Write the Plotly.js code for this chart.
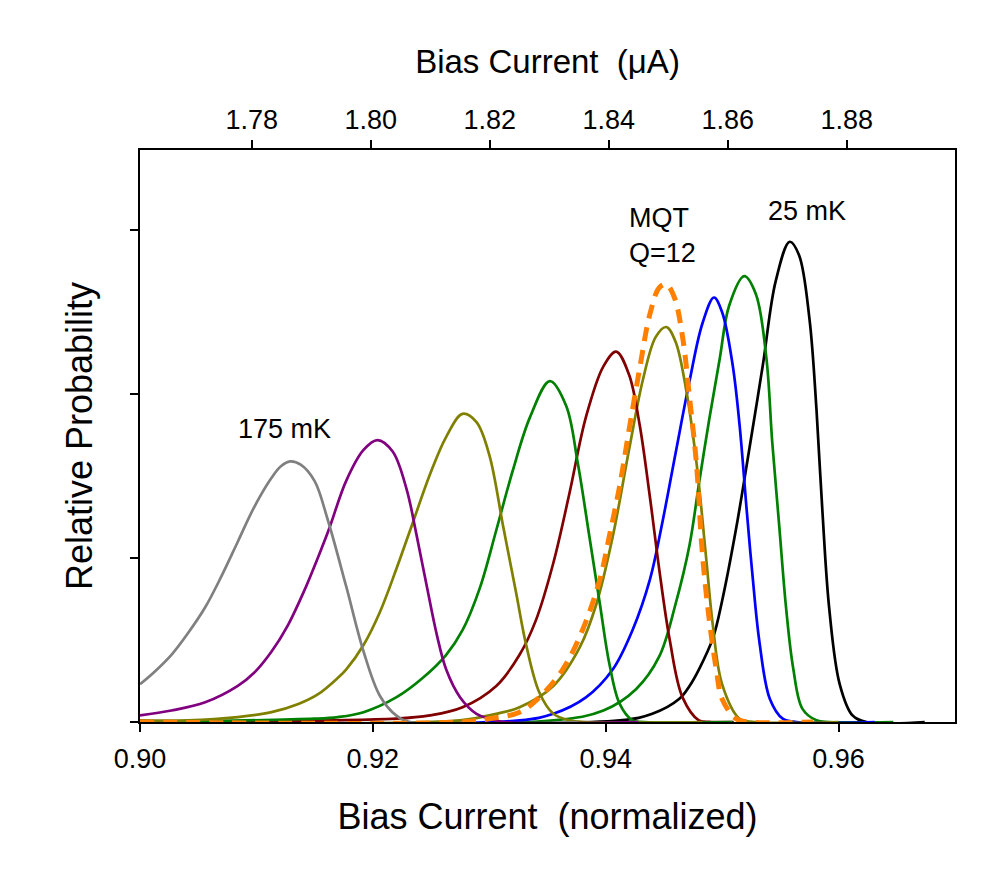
<!DOCTYPE html>
<html>
<head>
<meta charset="utf-8">
<script src="https://cdn.plot.ly/plotly-3.0.1.min.js"></script>
<style>
  body { margin: 0; background: #fff; }
  #chart { width: 1007px; height: 895px; }
</style>
</head>
<body>
<div id="chart"></div>
<script>
// switching distributions, x = normalized bias current
// y = relative probability (one y tick = 1 unit)

// 175 mK
var xGray = [0.9000, 0.9013, 0.9027, 0.9041, 0.9056, 0.9070, 0.9084, 0.9098, 0.9113, 0.9121, 0.9129, 0.9138, 0.9150, 0.9161, 0.9177, 0.9192, 0.9206, 0.9220, 0.9232, 0.9376];
var yGray = [0.23, 0.31, 0.41, 0.54, 0.70, 0.89, 1.10, 1.31, 1.49, 1.56, 1.59, 1.57, 1.47, 1.24, 0.83, 0.43, 0.16, 0.04, 0.00, 0.00];

var xPurple = [0.9000, 0.9027, 0.9056, 0.9084, 0.9098, 0.9113, 0.9127, 0.9141, 0.9156, 0.9163, 0.9177, 0.9192, 0.9204, 0.9217, 0.9229, 0.9237, 0.9246, 0.9255, 0.9263, 0.9275, 0.9289, 0.9300, 0.9313, 0.9428];
var yPurple = [0.04, 0.07, 0.12, 0.22, 0.30, 0.43, 0.59, 0.80, 1.06, 1.19, 1.47, 1.66, 1.72, 1.65, 1.42, 1.16, 0.84, 0.53, 0.32, 0.15, 0.05, 0.02, 0.00, 0.00];

var xOlive1 = [0.9000, 0.9041, 0.9084, 0.9113, 0.9136, 0.9153, 0.9170, 0.9177, 0.9192, 0.9206, 0.9220, 0.9234, 0.9249, 0.9263, 0.9277, 0.9289, 0.9300, 0.9312, 0.9323, 0.9332, 0.9343, 0.9355, 0.9369, 0.9382, 0.9483];
var yOlive1 = [0.01, 0.01, 0.03, 0.06, 0.11, 0.17, 0.27, 0.32, 0.47, 0.67, 0.93, 1.21, 1.51, 1.74, 1.88, 1.83, 1.63, 1.19, 0.79, 0.46, 0.18, 0.05, 0.01, 0.00, 0.00];

var xGreen1 = [0.9000, 0.9150, 0.9170, 0.9192, 0.9220, 0.9243, 0.9263, 0.9277, 0.9292, 0.9306, 0.9320, 0.9335, 0.9352, 0.9366, 0.9376, 0.9386, 0.9395, 0.9403, 0.9412, 0.9423, 0.9433, 0.9509];
var yGreen1 = [0.00, 0.02, 0.03, 0.06, 0.15, 0.27, 0.41, 0.56, 0.82, 1.17, 1.53, 1.86, 2.08, 1.93, 1.58, 1.13, 0.72, 0.36, 0.11, 0.01, 0.00, 0.00];

var xRed = [0.9000, 0.9220, 0.9249, 0.9277, 0.9306, 0.9326, 0.9340, 0.9355, 0.9369, 0.9383, 0.9398, 0.9409, 0.9420, 0.9429, 0.9438, 0.9446, 0.9455, 0.9466, 0.9480, 0.9491, 0.9510];
var yRed = [0.00, 0.02, 0.04, 0.09, 0.22, 0.41, 0.62, 0.97, 1.40, 1.86, 2.17, 2.26, 2.12, 1.82, 1.37, 0.93, 0.50, 0.15, 0.01, 0.00, 0.00];

var xOlive2 = [0.9000, 0.9275, 0.9306, 0.9326, 0.9355, 0.9378, 0.9392, 0.9406, 0.9420, 0.9432, 0.9443, 0.9452, 0.9460, 0.9469, 0.9478, 0.9486, 0.9492, 0.9500, 0.9515, 0.9528, 0.9600];
var yOlive2 = [0.00, 0.01, 0.05, 0.09, 0.22, 0.46, 0.72, 1.13, 1.66, 2.09, 2.35, 2.41, 2.32, 2.03, 1.58, 1.02, 0.59, 0.23, 0.02, 0.00, 0.00];

var xBlue = [0.9000, 0.9326, 0.9355, 0.9383, 0.9406, 0.9423, 0.9438, 0.9449, 0.9460, 0.9472, 0.9483, 0.9493, 0.9500, 0.9509, 0.9515, 0.9521, 0.9526, 0.9532, 0.9541, 0.9552, 0.9564, 0.9631];
var yBlue = [0.00, 0.01, 0.05, 0.15, 0.32, 0.56, 0.87, 1.23, 1.64, 2.08, 2.43, 2.59, 2.50, 2.18, 1.81, 1.30, 0.90, 0.49, 0.14, 0.02, 0.00, 0.00];

var xGreen2 = [0.9000, 0.9355, 0.9398, 0.9426, 0.9446, 0.9460, 0.9472, 0.9480, 0.9489, 0.9498, 0.9506, 0.9519, 0.9529, 0.9538, 0.9543, 0.9549, 0.9555, 0.9561, 0.9569, 0.9581, 0.9592, 0.9647];
var yGreen2 = [0.00, 0.01, 0.07, 0.20, 0.40, 0.72, 1.08, 1.45, 1.85, 2.22, 2.54, 2.72, 2.61, 2.22, 1.71, 1.20, 0.69, 0.33, 0.08, 0.01, 0.00, 0.00];

// 25 mK
var xBlack = [0.9000, 0.9412, 0.9440, 0.9463, 0.9472, 0.9480, 0.9492, 0.9500, 0.9512, 0.9523, 0.9535, 0.9546, 0.9558, 0.9566, 0.9575, 0.9581, 0.9586, 0.9592, 0.9601, 0.9612, 0.9624, 0.9674];
var yBlack = [0.00, 0.01, 0.05, 0.14, 0.22, 0.32, 0.51, 0.74, 1.18, 1.65, 2.18, 2.69, 2.93, 2.85, 2.46, 1.91, 1.30, 0.69, 0.23, 0.04, 0.00, 0.00];

// MQT prediction, Q = 12
var xMqt = [0.9000, 0.9275, 0.9300, 0.9326, 0.9343, 0.9363, 0.9380, 0.9395, 0.9403, 0.9412, 0.9420, 0.9429, 0.9438, 0.9446, 0.9452, 0.9459, 0.9466, 0.9472, 0.9478, 0.9483, 0.9489, 0.9495, 0.9500, 0.9512, 0.9523, 0.9578];
var yMqt = [0.00, 0.00, 0.02, 0.06, 0.15, 0.32, 0.56, 0.87, 1.13, 1.44, 1.78, 2.15, 2.49, 2.65, 2.67, 2.59, 2.35, 1.98, 1.57, 1.03, 0.62, 0.32, 0.14, 0.02, 0.00, 0.00];

var bottomTicks = [0.90, 0.92, 0.94, 0.96];
var bottomTickText = ["0.90", "0.92", "0.94", "0.96"];
var topTicks = [1.78, 1.80, 1.82, 1.84, 1.86, 1.88];
var topTickText = ["1.78", "1.80", "1.82", "1.84", "1.86", "1.88"];
var yTicks = [0, 1, 2, 3];

var xRange = [0.90, 0.97];
var icMicroAmp = 1.9569; // µA per unit of normalized current

var font = "Liberation Sans, Arial, sans-serif";

function curve(x, y, color) {
    return {
        x: x, y: y,
        type: "scatter", mode: "lines",
        line: {color: color, width: 2.7, shape: "spline", smoothing: 1},
        hoverinfo: "skip"
    };
}

// drawn from coldest to hottest so the baseline colours stack as in the figure
var data = [
    curve(xBlack, yBlack, "#000000"),
    curve(xGreen2, yGreen2, "#008000"),
    curve(xBlue, yBlue, "#0000ff"),
    curve(xOlive2, yOlive2, "#808000"),
    curve(xRed, yRed, "#800000"),
    curve(xGreen1, yGreen1, "#008000"),
    curve(xOlive1, yOlive1, "#808000"),
    curve(xPurple, yPurple, "#800080"),
    curve(xGray, yGray, "#808080")
];

var mqt = curve(xMqt, yMqt, "#ff8000");
mqt.line.width = 5;
mqt.line.dash = "14px,9px";
data.push(mqt);

// invisible trace so the top axis gets drawn
data.push({
    x: [xRange[0] * icMicroAmp, xRange[1] * icMicroAmp], y: [0, 0],
    xaxis: "x2", type: "scatter", mode: "lines",
    line: {width: 0}, hoverinfo: "skip"
});

var layout = {
    width: 1007, height: 895,
    margin: {l: 140, r: 52, t: 150, b: 173},
    paper_bgcolor: "#ffffff", plot_bgcolor: "#ffffff",
    showlegend: false,
    font: {family: font, color: "#000000", size: 27},
    xaxis: {
        range: xRange,
        tickvals: bottomTicks, ticktext: bottomTickText,
        ticks: "outside", ticklen: 8, tickwidth: 2, tickcolor: "#000",
        ticklabelstandoff: 4,
        showline: true, linewidth: 2, linecolor: "#000",
        showgrid: false, zeroline: false,
        tickfont: {size: 27},
        title: {text: "Bias Current\u00a0\u00a0(normalized)", font: {size: 36}, standoff: 30}
    },
    xaxis2: {
        overlaying: "x", side: "top", anchor: "y",
        range: [xRange[0] * icMicroAmp, xRange[1] * icMicroAmp],
        tickvals: topTicks, ticktext: topTickText,
        ticks: "outside", ticklen: 8, tickwidth: 2, tickcolor: "#000",
        showline: true, linewidth: 2, linecolor: "#000",
        showgrid: false, zeroline: false,
        tickfont: {size: 27},
        title: {text: "Bias Current\u00a0\u00a0(\u03bcA)", font: {size: 33}, standoff: 22}
    },
    yaxis: {
        range: [0, 3.49],
        tickvals: yTicks, showticklabels: false,
        ticks: "outside", ticklen: 8, tickwidth: 2, tickcolor: "#000",
        showline: true, linewidth: 2, linecolor: "#000", mirror: true,
        showgrid: false, zeroline: false,
        title: {text: "Relative Probability", font: {size: 36}, standoff: 26}
    },
    annotations: [
        {x: 0.9124, y: 1.79, xref: "x", yref: "y", text: "175 mK", showarrow: false, font: {size: 27}},
        {x: 0.9418, y: 2.97, xref: "x", yref: "y", text: "MQT<br>Q=12", showarrow: false, xanchor: "left", align: "left", font: {size: 27}},
        {x: 0.9573, y: 3.12, xref: "x", yref: "y", text: "25 mK", showarrow: false, font: {size: 27}}
    ]
};

Plotly.newPlot("chart", data, layout, {staticPlot: true});
</script>
</body>
</html>
